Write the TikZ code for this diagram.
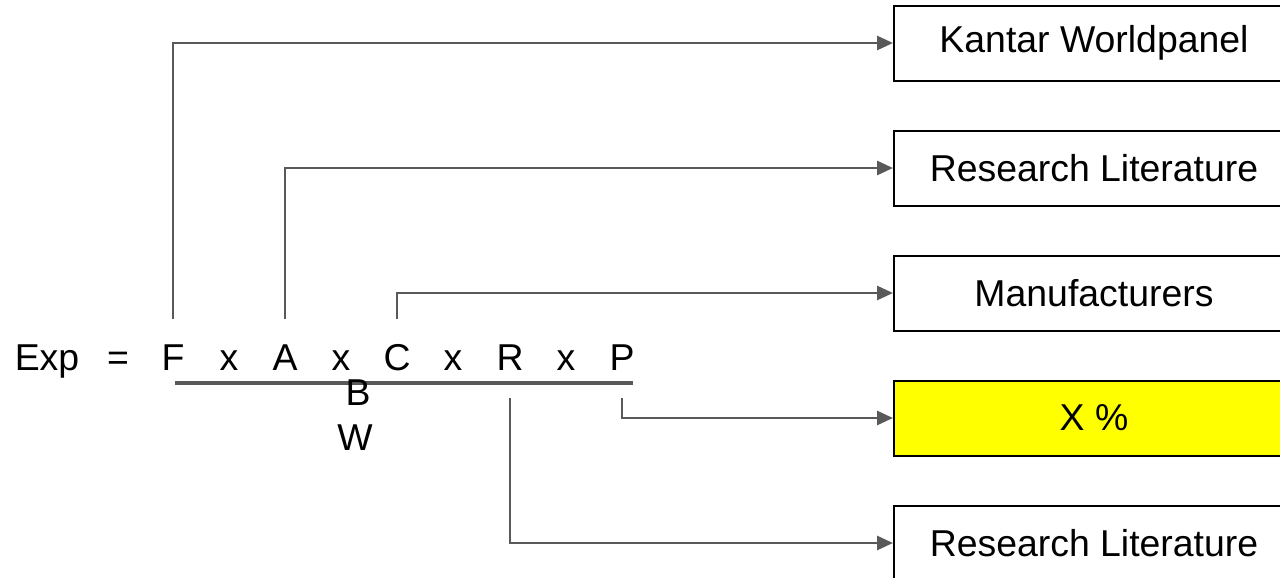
\documentclass[tikz,border=0pt]{standalone}
\usepackage{fontspec}
\setmainfont{Liberation Sans}
\usepackage{xcolor}
\usepackage{tikz}
\usetikzlibrary{arrows.meta, positioning}

\definecolor{linea}{HTML}{595959}
\definecolor{amarillo}{HTML}{FFFF00}
\newcommand{\letra}{\fontsize{18.7}{22}\selectfont}

\begin{document}
\begin{tikzpicture}[
    x=0.5pt, y=-0.5pt,
    fuente/.style={draw=black, line width=1pt, minimum width=200pt, minimum height=37.5pt, inner sep=0pt, anchor=west, font=\letra},
    simbolo/.style={font=\letra, anchor=base, inner sep=0pt, outer sep=12pt, text height=13.4pt, text depth=0pt},
    enlace/.style={draw=linea, line width=1.4pt, -{Triangle[length=8pt, width=7pt]}},
    barra/.style={draw=linea, line width=2.2pt}
]
    \useasboundingbox (0,0) rectangle (1280,578);
    \clip (0,0) rectangle (1280,578);

    % Fuentes
    \node[fuente] (kantar) at (893,43)  {Kantar Worldpanel};
    \node[fuente] (lit1)   at (893,168) {Research Literature};
    \node[fuente] (manuf)  at (893,293) {Manufacturers};
    \node[fuente, fill=amarillo] (pct) at (893,418) {X \%};
    \node[fuente] (lit2)   at (893,543) {Research Literature};

    % Formula
    \node[simbolo] (exp)   at (47,370)  {Exp};
    \node[simbolo] (igual) at (118,370) {=};
    \node[simbolo] (f)     at (173,370) {F};
    \node[simbolo] (x1)    at (229,370) {x};
    \node[simbolo] (a)     at (285,370) {A};
    \node[simbolo] (x2)    at (341,370) {x};
    \node[simbolo] (c)     at (397,370) {C};
    \node[simbolo] (x3)    at (453,370) {x};
    \node[simbolo] (r)     at (510,370) {R};
    \node[simbolo] (x4)    at (566,370) {x};
    \node[simbolo] (p)     at (622,370) {P};

    \draw[barra] (175,383) -- (633,383);

    % Denominador
    \node[font=\letra] (b) at (358,393) {B};
    \node[font=\letra] (w) at (355,438) {W};

    % Conexiones
    \draw[enlace] (f.north) |- (kantar.west);
    \draw[enlace] (a.north) |- (lit1.west);
    \draw[enlace] (c.north) |- (manuf.west);
    \draw[enlace] ([yshift=-2pt]p.south) |- (pct.west);
    \draw[enlace] ([yshift=-2pt]r.south) |- (lit2.west);
\end{tikzpicture}
\end{document}
